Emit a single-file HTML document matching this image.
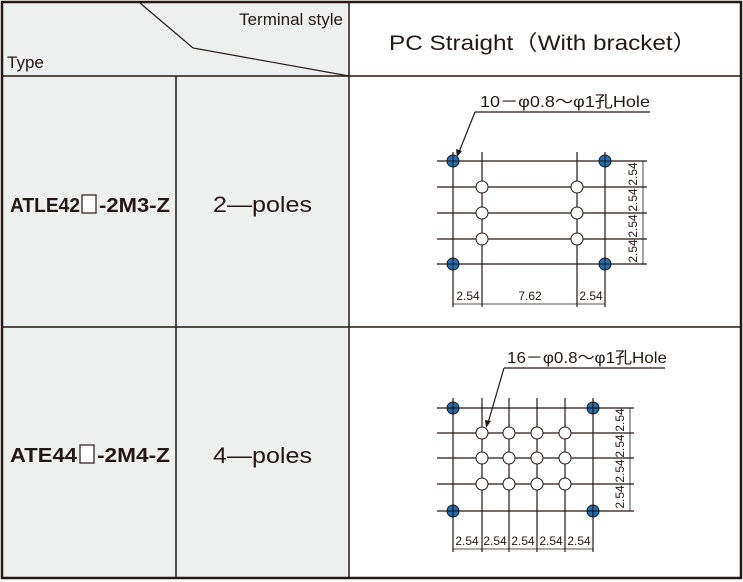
<!DOCTYPE html>
<html><head><meta charset="utf-8"><style>
html,body{margin:0;padding:0;background:#fff;}
svg{display:block;}
text{font-family:"Liberation Sans","Noto Sans CJK JP",sans-serif;fill:#231815;}
</style></head><body>
<svg width="743" height="582" viewBox="0 0 743 582" xmlns="http://www.w3.org/2000/svg">
<rect x="0" y="0" width="743" height="582" fill="#fff"/>
<rect x="2" y="2" width="347" height="576" fill="#eef0ef"/>
<g stroke="#231815" fill="none">
<rect x="2" y="2" width="739" height="576" stroke-width="2.5"/>
<line x1="2" y1="76" x2="741" y2="76" stroke-width="1.5"/>
<line x1="2" y1="327" x2="741" y2="327" stroke-width="1.5"/>
<line x1="349" y1="2" x2="349" y2="578" stroke-width="1.5"/>
<line x1="176" y1="76" x2="176" y2="578" stroke-width="1.5"/>
<polyline points="140,3 193,48 349,76" stroke-width="1.2"/>
</g>
<text x="343" y="25" font-size="17" text-anchor="end">Terminal style</text>
<text x="7" y="68" font-size="17">Type</text>
<text x="389" y="50" font-size="21" textLength="308" lengthAdjust="spacingAndGlyphs">PC Straight（With  bracket）</text>
<text x="10" y="212" font-size="20" font-weight="bold" textLength="70" lengthAdjust="spacingAndGlyphs">ATLE42</text>
<rect x="82" y="195" width="14" height="18" fill="#fff" stroke="#231815" stroke-width="1.2"/>
<text x="99" y="212" font-size="20" font-weight="bold" textLength="71" lengthAdjust="spacingAndGlyphs">-2M3-Z</text>
<text x="213" y="212" font-size="22" textLength="99" lengthAdjust="spacingAndGlyphs">2—poles</text>
<text x="10" y="462" font-size="20" font-weight="bold" textLength="67" lengthAdjust="spacingAndGlyphs">ATE44</text>
<rect x="80" y="445" width="14" height="18" fill="#fff" stroke="#231815" stroke-width="1.2"/>
<text x="97" y="462" font-size="20" font-weight="bold" textLength="73" lengthAdjust="spacingAndGlyphs">-2M4-Z</text>
<text x="213" y="463" font-size="22" textLength="99" lengthAdjust="spacingAndGlyphs">4—poles</text>

<!-- Diagram 1 -->
<g stroke="#231815" stroke-width="1.2" fill="none">
<line x1="437" y1="161" x2="647" y2="161"/>
<line x1="437" y1="187" x2="647" y2="187"/>
<line x1="437" y1="213" x2="647" y2="213"/>
<line x1="437" y1="239" x2="647" y2="239"/>
<line x1="437" y1="264" x2="647" y2="264"/>
<line x1="453" y1="152" x2="453" y2="307"/>
<line x1="482" y1="152" x2="482" y2="307"/>
<line x1="577" y1="152" x2="577" y2="307"/>
<line x1="605" y1="152" x2="605" y2="307"/>
<line x1="643" y1="161" x2="643" y2="264" stroke-width="0.8"/>
<line x1="453" y1="304" x2="605" y2="304" stroke-width="0.8"/>
<polyline points="475,112 650,112" />
<line x1="475" y1="112" x2="459" y2="152"/>
</g>
<polygon points="457,157 456,149 462,151" fill="#231815"/>
<g fill="#fff" stroke="#231815" stroke-width="1">
<circle cx="482" cy="187" r="6"/><circle cx="482" cy="213" r="6"/><circle cx="482" cy="239" r="6"/>
<circle cx="577" cy="187" r="6"/><circle cx="577" cy="213" r="6"/><circle cx="577" cy="239" r="6"/>
</g>
<g fill="#1d6fb8" stroke="#231815" stroke-width="1">
<circle cx="453" cy="161" r="6"/><circle cx="605" cy="161" r="6"/><circle cx="453" cy="264" r="6"/><circle cx="605" cy="264" r="6"/>
<circle cx="453" cy="408" r="6"/><circle cx="593" cy="408" r="6"/><circle cx="453" cy="511" r="6"/><circle cx="593" cy="511" r="6"/>
</g>
<g stroke="#231815" stroke-width="1">
<line x1="447" y1="161" x2="459" y2="161"/><line x1="453" y1="155" x2="453" y2="167"/>
<line x1="599" y1="161" x2="611" y2="161"/><line x1="605" y1="155" x2="605" y2="167"/>
<line x1="447" y1="264" x2="459" y2="264"/><line x1="453" y1="258" x2="453" y2="270"/>
<line x1="599" y1="264" x2="611" y2="264"/><line x1="605" y1="258" x2="605" y2="270"/>
<line x1="447" y1="408" x2="459" y2="408"/><line x1="453" y1="402" x2="453" y2="414"/>
<line x1="587" y1="408" x2="599" y2="408"/><line x1="593" y1="402" x2="593" y2="414"/>
<line x1="447" y1="511" x2="459" y2="511"/><line x1="453" y1="505" x2="453" y2="517"/>
<line x1="587" y1="511" x2="599" y2="511"/><line x1="593" y1="505" x2="593" y2="517"/>
</g>
<text x="480" y="107" font-size="16" textLength="170" lengthAdjust="spacingAndGlyphs">10－φ0.8～φ1孔Hole</text>
<g font-size="12" text-anchor="middle">
<text transform="translate(637,174) rotate(-90)">2.54</text>
<text transform="translate(637,200) rotate(-90)">2.54</text>
<text transform="translate(637,226) rotate(-90)">2.54</text>
<text transform="translate(637,251) rotate(-90)">2.54</text>
<text x="468" y="300">2.54</text>
<text x="530" y="300">7.62</text>
<text x="591" y="300">2.54</text>
</g>

<!-- Diagram 2 -->
<g stroke="#231815" stroke-width="1.2" fill="none">
<line x1="437" y1="408" x2="634" y2="408"/>
<line x1="437" y1="433" x2="634" y2="433"/>
<line x1="437" y1="458" x2="634" y2="458"/>
<line x1="437" y1="484" x2="634" y2="484"/>
<line x1="437" y1="511" x2="634" y2="511"/>
<line x1="453" y1="398" x2="453" y2="552"/>
<line x1="482" y1="398" x2="482" y2="552"/>
<line x1="509" y1="398" x2="509" y2="552"/>
<line x1="537" y1="398" x2="537" y2="552"/>
<line x1="565" y1="398" x2="565" y2="552"/>
<line x1="593" y1="398" x2="593" y2="552"/>
<line x1="630" y1="408" x2="630" y2="511" stroke-width="0.8"/>
<line x1="453" y1="549" x2="593" y2="549" stroke-width="0.8"/>
<polyline points="504,368 665,368"/>
<line x1="504" y1="368" x2="488" y2="423"/>
</g>
<polygon points="486,428 485,420 491,421" fill="#231815"/>
<g fill="#fff" stroke="#231815" stroke-width="1">
<circle cx="482" cy="433" r="6"/><circle cx="509" cy="433" r="6"/><circle cx="537" cy="433" r="6"/><circle cx="565" cy="433" r="6"/>
<circle cx="482" cy="458" r="6"/><circle cx="509" cy="458" r="6"/><circle cx="537" cy="458" r="6"/><circle cx="565" cy="458" r="6"/>
<circle cx="482" cy="484" r="6"/><circle cx="509" cy="484" r="6"/><circle cx="537" cy="484" r="6"/><circle cx="565" cy="484" r="6"/>
</g>
<text x="507" y="363" font-size="16" textLength="160" lengthAdjust="spacingAndGlyphs">16－φ0.8～φ1孔Hole</text>
<g font-size="12" text-anchor="middle">
<text transform="translate(624,420) rotate(-90)">2.54</text>
<text transform="translate(624,446) rotate(-90)">2.54</text>
<text transform="translate(624,471) rotate(-90)">2.54</text>
<text transform="translate(624,497) rotate(-90)">2.54</text>
<text x="467" y="545">2.54</text>
<text x="495" y="545">2.54</text>
<text x="523" y="545">2.54</text>
<text x="551" y="545">2.54</text>
<text x="579" y="545">2.54</text>
</g>
</svg>
</body></html>
